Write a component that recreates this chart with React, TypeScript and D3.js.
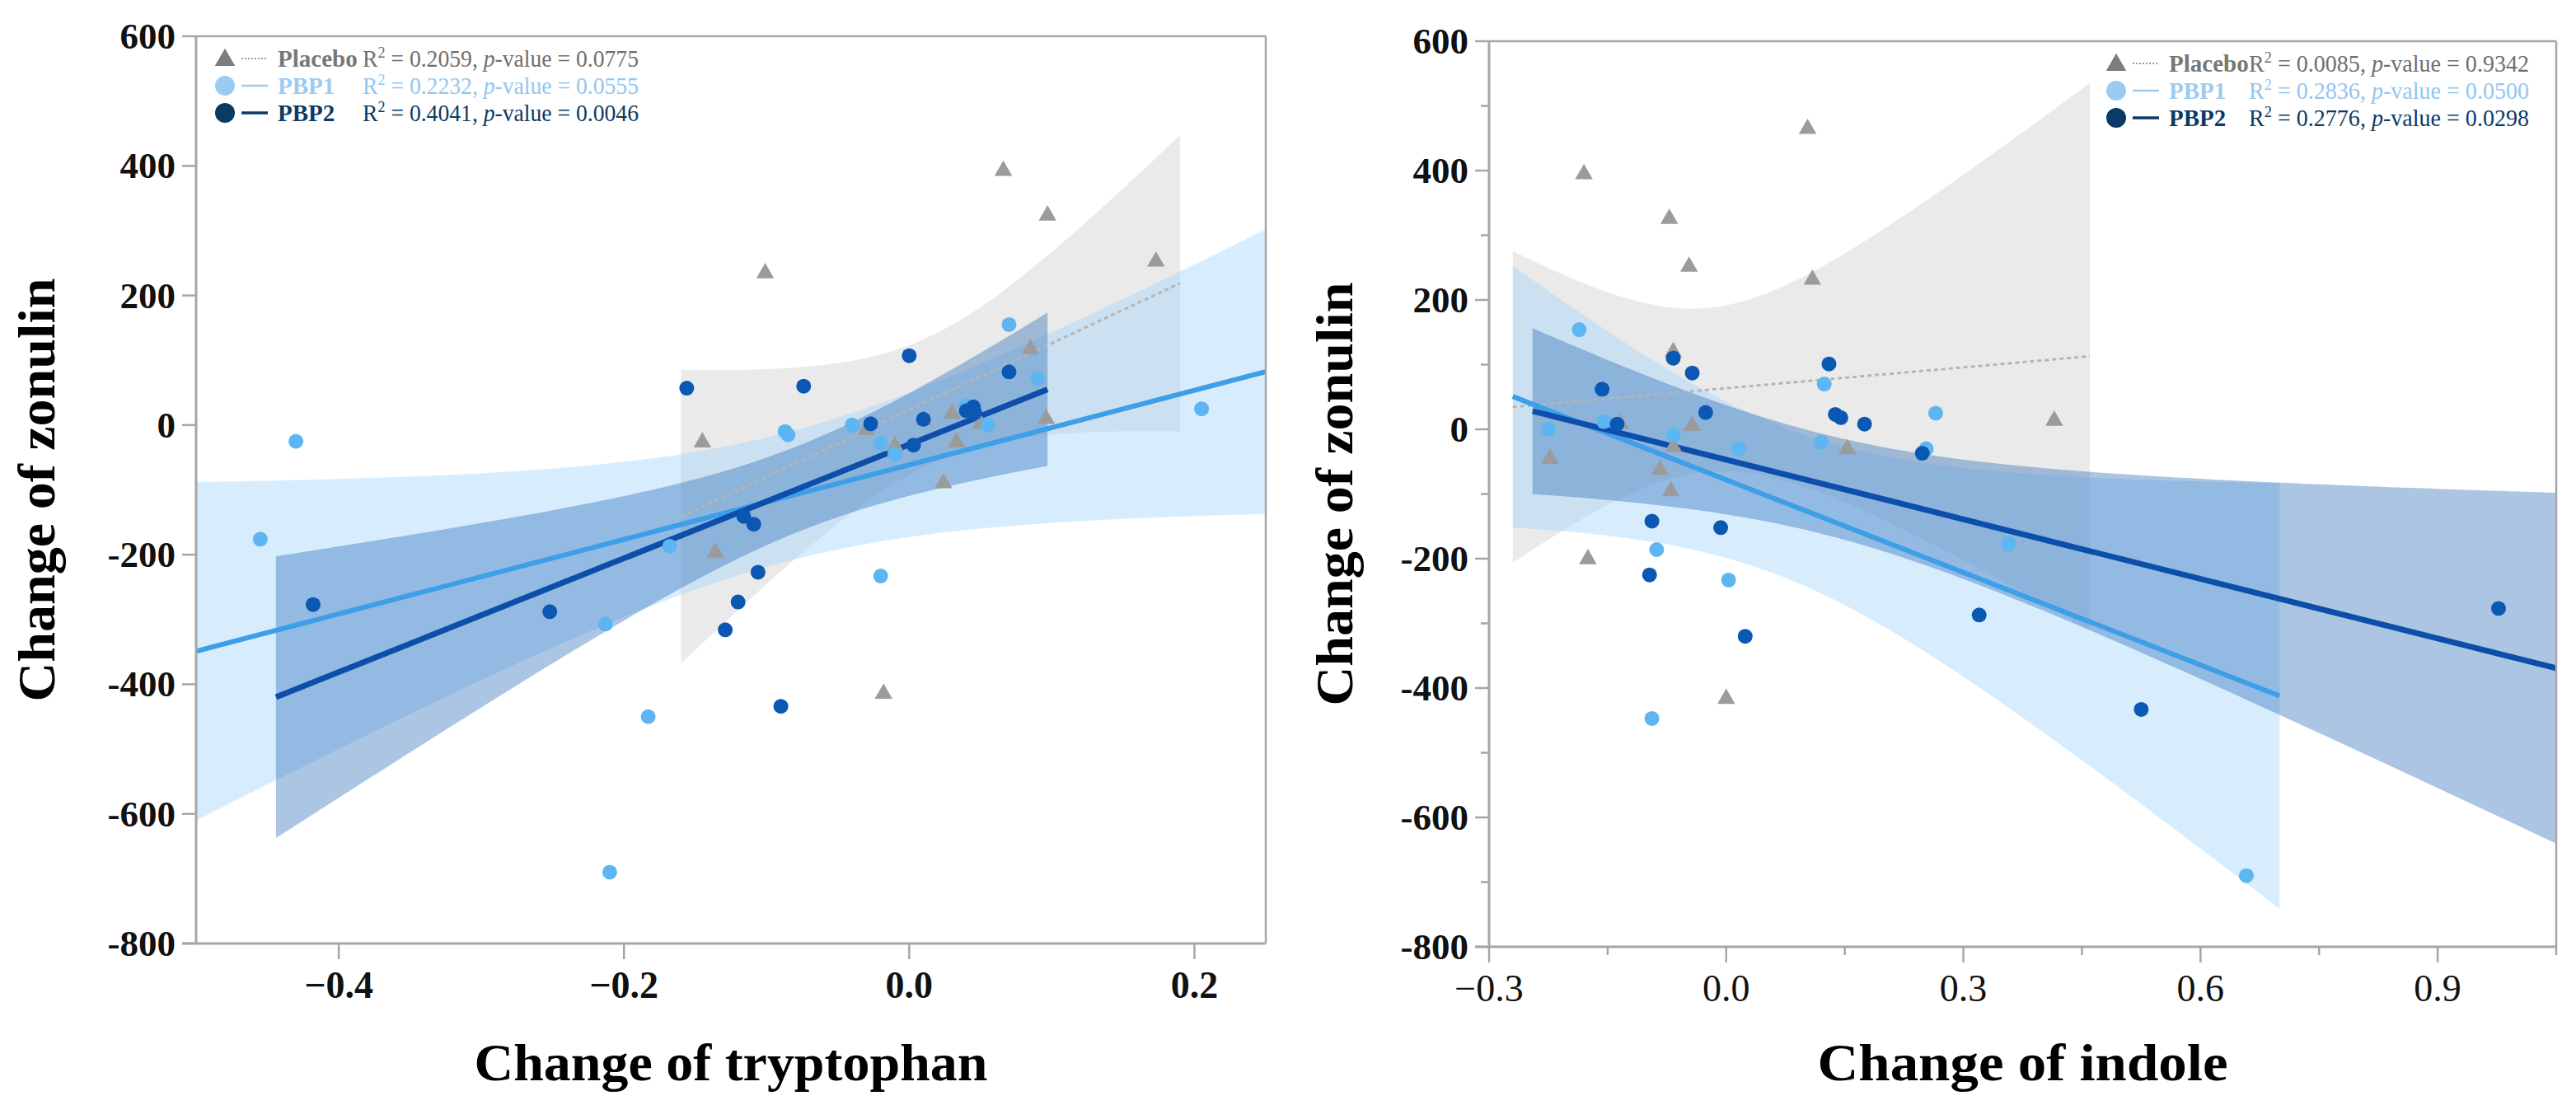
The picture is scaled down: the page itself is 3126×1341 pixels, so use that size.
import React from "react";
import * as d3 from "d3";

// ---------------- Panel A: tryptophan ----------------
const trpPlaceboX = [0.066, 0.097, -0.101, 0.173, 0.085, -0.145, -0.136, -0.018, 0.024, 0.033, 0.096, 0.01, -0.03, 0.05, 0.03, -0.01];
const trpPlaceboY = [395, 326, 237, 255, 120, -24, -194, -412, -87, -24, 12, 10, -5, 5, 20, -30];
const trpPbp1X = [-0.455, -0.43, -0.21, -0.213, -0.183, -0.168, -0.087, -0.085, -0.02, -0.04, -0.02, 0.055, 0.07, 0.09, 0.205, 0.04, -0.01];
const trpPbp1Y = [-176, -25, -690, -307, -450, -187, -10, -15, -233, 0, -28, 0, 155, 72, 25, 30, -45];
const trpPbp2X = [-0.418, -0.252, -0.156, -0.074, 0.0, -0.027, 0.003, 0.01, 0.04, 0.046, 0.07, -0.116, -0.109, -0.106, -0.129, -0.12, -0.09, 0.045];
const trpPbp2Y = [-277, -288, 57, 60, 107, 2, -31, 9, 22, 19, 82, -141, -153, -227, -316, -273, -434, 28];
const trpFitRanges = { placebo: [-0.16, 0.19], pbp1: [-0.5, 0.25], pbp2: [-0.444, 0.097] };
const trpXTicks = [-0.4, -0.2, 0.0, 0.2];
const trpStats = ["0.2059", "0.0775", "0.2232", "0.0555", "0.4041", "0.0046"];

// ---------------- Panel B: indole ----------------
const indPlaceboX = [-0.18, -0.072, 0.103, 0.109, -0.047, -0.067, -0.223, -0.067, -0.134, -0.084, -0.07, -0.175, 0.0, 0.153, 0.415, -0.043];
const indPlaceboY = [397, 328, 467, 234, 254, 122, -43, -25, 11, -60, -93, -198, -414, -28, 16, 8];
const indPbp1X = [-0.186, -0.225, -0.088, -0.094, 0.003, 0.016, 0.124, 0.12, 0.265, 0.253, 0.357, 0.658, -0.155, -0.067];
const indPbp1Y = [154, 0, -186, -447, -233, -30, 70, -20, 25, -30, -177, -690, 12, -9];
const indPbp2X = [-0.157, -0.138, -0.067, -0.043, -0.026, -0.007, -0.094, -0.097, 0.024, 0.13, 0.138, 0.145, 0.175, 0.248, 0.32, 0.525, 0.977];
const indPbp2Y = [62, 8, 110, 87, 26, -152, -142, -225, -320, 101, 23, 18, 8, -37, -287, -433, -277];
const indFitRanges = { placebo: [-0.27, 0.46], pbp1: [-0.27, 0.7], pbp2: [-0.245, 1.05] };
const indXTicks = [-0.3, 0.0, 0.3, 0.6, 0.9];
const indXMinor = [-0.15, 0.15, 0.45, 0.75, 1.05];
const indStats = ["0.0085", "0.9342", "0.2836", "0.0500", "0.2776", "0.0298"];

const yTicks = [600, 400, 200, 0, -200, -400, -600, -800];
const yMinor = [500, 300, 100, -100, -300, -500, -700];

const T975: Record<number, number> = { 8: 2.306, 9: 2.262, 10: 2.228, 11: 2.201, 12: 2.179, 13: 2.16, 14: 2.145, 15: 2.131, 16: 2.12, 17: 2.11, 18: 2.101, 19: 2.093, 20: 2.086 };

function fitBand(xs: number[], ys: number[], range: number[]) {
  const n = xs.length;
  const mx = d3.mean(xs) as number;
  const my = d3.mean(ys) as number;
  let sxx = 0, sxy = 0;
  xs.forEach((x, i) => { sxx += (x - mx) ** 2; sxy += (x - mx) * (ys[i] - my); });
  const b = sxy / sxx;
  const a = my - b * mx;
  let sse = 0;
  xs.forEach((x, i) => { const r = ys[i] - (a + b * x); sse += r * r; });
  const s = Math.sqrt(sse / (n - 2));
  const t = T975[n - 2] ?? 2.1;
  const grid = d3.range(0, 81).map((i) => range[0] + ((range[1] - range[0]) * i) / 80);
  return {
    a, b,
    band: grid.map((x) => {
      const yh = a + b * x;
      const h = t * s * Math.sqrt(1 / n + (x - mx) ** 2 / sxx);
      return { x, lo: yh - h, hi: yh + h };
    }),
  };
}

const FONT = "'Liberation Serif', 'Times New Roman', serif";
const AXIS = "#a6a6a6";
const C_PLAC = "#9b9b9b";
const C_P1 = "#5db5f2";
const C_P2 = "#0b58b4";

type PanelProps = {
  id: string;
  xDomain: number[]; xRange: number[];
  yRange: number[];
  data: { px: number[]; py: number[]; p1x: number[]; p1y: number[]; p2x: number[]; p2y: number[] };
  ranges: { placebo: number[]; pbp1: number[]; pbp2: number[] };
  xTicks: number[]; xMinor: number[]; yMinorOn: boolean;
  xLabelBold: boolean;
  xTitle: string; xTitleLen: number; yTitleX: number;
  legendX: number; legendY: number; statsX: number; statsLen: number;
  stats: string[];
};

function StatText({ x, y, r2, p, color, len, bold }: any) {
  return (
    <text x={x} y={y} fontFamily={FONT} fontSize={29} fill={color} fontWeight={bold ? 700 : 400} textLength={len} lengthAdjust="spacingAndGlyphs" dominantBaseline="central">
      R<tspan fontSize={19} dy={-8}>2</tspan><tspan dy={8}> = {r2}, </tspan><tspan fontStyle="italic">p</tspan>-value = {p}
    </text>
  );
}

function Panel(props: PanelProps) {
  const { id, xDomain, xRange, yRange, data, ranges } = props;
  const x = d3.scaleLinear().domain(xDomain).range(xRange);
  const y = d3.scaleLinear().domain([-800, 600]).range(yRange);
  const [x0, x1] = xRange;
  const [yb, yt] = yRange;

  const fPl = fitBand(data.px, data.py, ranges.placebo);
  const f1 = fitBand(data.p1x, data.p1y, ranges.pbp1);
  const f2 = fitBand(data.p2x, data.p2y, ranges.pbp2);
  const area = d3.area<{ x: number; lo: number; hi: number }>().x((d) => x(d.x)).y0((d) => y(d.lo)).y1((d) => y(d.hi));
  const lineOf = (f: any, r: number[]) => d3.line()([[x(r[0]), y(f.a + f.b * r[0])], [x(r[1]), y(f.a + f.b * r[1])]]) as string;
  const tri = d3.symbol().type(d3.symbolTriangle).size(200)() as string;
  const triLeg = d3.symbol().type(d3.symbolTriangle).size(260)() as string;

  const { legendX: lx, legendY: ly, statsX, statsLen, stats } = props;
  const rows = [ly, ly + 33, ly + 66];

  return (
    <g>
      <defs>
        <clipPath id={`clip-${id}`}>
          <rect x={x0} y={yt} width={x1 - x0} height={yb - yt} />
        </clipPath>
      </defs>
      <g clipPath={`url(#clip-${id})`}>
        <path d={area(fPl.band) as string} fill="#d6d6d6" fillOpacity={0.5} />
        <path d={area(f1.band) as string} fill="#9fd3fb" fillOpacity={0.42} />
        <path d={area(f2.band) as string} fill="#2c6db8" fillOpacity={0.4} />
        <path d={lineOf(fPl, ranges.placebo)} stroke="#b5b5b5" strokeWidth={3} strokeDasharray="5,4" fill="none" />
        <path d={lineOf(f1, ranges.pbp1)} stroke="#3d9fe8" strokeWidth={6} fill="none" />
        <path d={lineOf(f2, ranges.pbp2)} stroke="#0d4eab" strokeWidth={7} fill="none" />
        {data.px.map((v, i) => (
          <path key={`t${i}`} d={tri} transform={`translate(${x(v)},${y(data.py[i]) + 2})`} fill={C_PLAC} />
        ))}
        {data.p1x.map((v, i) => (
          <circle key={`a${i}`} cx={x(v)} cy={y(data.p1y[i])} r={9} fill={C_P1} />
        ))}
        {data.p2x.map((v, i) => (
          <circle key={`b${i}`} cx={x(v)} cy={y(data.p2y[i])} r={9} fill={C_P2} />
        ))}
      </g>
      {/* frame */}
      <line x1={x0} x2={x1} y1={yt} y2={yt} stroke={AXIS} strokeWidth={2.5} />
      <line x1={x1} x2={x1} y1={yt} y2={yb} stroke={AXIS} strokeWidth={2.5} />
      <line x1={x0} x2={x0} y1={yt} y2={yb} stroke={AXIS} strokeWidth={3} />
      <line x1={x0 - 17} x2={x1} y1={yb} y2={yb} stroke={AXIS} strokeWidth={3} />
      {/* y ticks */}
      {yTicks.map((t) => (
        <g key={`yt${t}`}>
          <line x1={x0 - 17} x2={x0} y1={y(t)} y2={y(t)} stroke={AXIS} strokeWidth={2.5} />
          <text x={x0 - 25} y={y(t)} textAnchor="end" dominantBaseline="central" fontFamily={FONT} fontWeight={700} fontSize={45} fill="#111">
            {t}
          </text>
        </g>
      ))}
      {props.yMinorOn && yMinor.map((t) => (
        <line key={`ym${t}`} x1={x0 - 10} x2={x0} y1={y(t)} y2={y(t)} stroke={AXIS} strokeWidth={2.5} />
      ))}
      {/* x ticks */}
      {props.xTicks.map((t) => (
        <g key={`xt${t}`}>
          <line x1={x(t)} x2={x(t)} y1={yb} y2={yb + 19} stroke={AXIS} strokeWidth={2.5} />
          <text x={x(t)} y={yb + 50} textAnchor="middle" dominantBaseline="central" fontFamily={FONT} fontWeight={props.xLabelBold ? 700 : 400} fontSize={46} fill="#111">
            {d3.format(".1f")(t)}
          </text>
        </g>
      ))}
      {props.xMinor.map((t) => (
        <line key={`xm${t}`} x1={x(t)} x2={x(t)} y1={yb} y2={yb + 10} stroke={AXIS} strokeWidth={2.5} />
      ))}
      {/* titles */}
      <text x={(x0 + x1) / 2} y={1311} textAnchor="middle" fontFamily={FONT} fontWeight={700} fontSize={64} fill="#000" textLength={props.xTitleLen} lengthAdjust="spacingAndGlyphs">
        {props.xTitle}
      </text>
      <text transform={`translate(${props.yTitleX},${(yt + yb) / 2}) rotate(-90)`} textAnchor="middle" fontFamily={FONT} fontWeight={700} fontSize={64} fill="#000" textLength={514} lengthAdjust="spacingAndGlyphs">
        Change of zonulin
      </text>
      {/* legend */}
      <path d={triLeg} transform={`translate(${lx},${rows[0] + 2})`} fill="#7d7d7d" />
      <line x1={lx + 20} x2={lx + 52} y1={rows[0]} y2={rows[0]} stroke="#9a9a9a" strokeWidth={2} strokeDasharray="2,2" />
      <text x={lx + 64} y={rows[0]} dominantBaseline="central" fontFamily={FONT} fontWeight={700} fontSize={29} fill="#777">Placebo</text>
      <circle cx={lx} cy={rows[1]} r={12} fill="#9ccbf2" />
      <line x1={lx + 20} x2={lx + 52} y1={rows[1]} y2={rows[1]} stroke="#9ccbf2" strokeWidth={2.5} />
      <text x={lx + 64} y={rows[1]} dominantBaseline="central" fontFamily={FONT} fontWeight={700} fontSize={29} fill="#9ccbf2">PBP1</text>
      <circle cx={lx} cy={rows[2]} r={12} fill="#0b3a66" />
      <line x1={lx + 20} x2={lx + 52} y1={rows[2]} y2={rows[2]} stroke="#0b3a66" strokeWidth={3.5} />
      <text x={lx + 64} y={rows[2]} dominantBaseline="central" fontFamily={FONT} fontWeight={700} fontSize={29} fill="#0b3a66">PBP2</text>
      <StatText x={statsX} y={rows[0]} r2={stats[0]} p={stats[1]} color="#6f6f6f" len={statsLen} />
      <StatText x={statsX} y={rows[1]} r2={stats[2]} p={stats[3]} color="#92c6f0" len={statsLen} />
      <StatText x={statsX} y={rows[2]} r2={stats[4]} p={stats[5]} color="#0b3a66" len={statsLen} />
    </g>
  );
}

export default function App() {
  return (
    <svg width={3126} height={1341} viewBox="0 0 3126 1341" style={{ position: "absolute", left: 0, top: 0, background: "#fff" }}>
      <rect x={0} y={0} width={3126} height={1341} fill="#fff" />
      <Panel
        id="trp"
        xDomain={[-0.5, 0.25]} xRange={[238, 1536]} yRange={[1145, 44]}
        data={{ px: trpPlaceboX, py: trpPlaceboY, p1x: trpPbp1X, p1y: trpPbp1Y, p2x: trpPbp2X, p2y: trpPbp2Y }}
        ranges={trpFitRanges}
        xTicks={trpXTicks} xMinor={[]} yMinorOn={false} xLabelBold={true}
        xTitle="Change of tryptophan" xTitleLen={623} yTitleX={66}
        legendX={273} legendY={71} statsX={440} statsLen={335} stats={trpStats}
      />
      <Panel
        id="ind"
        xDomain={[-0.3, 1.05]} xRange={[1807, 3102]} yRange={[1149, 50]}
        data={{ px: indPlaceboX, py: indPlaceboY, p1x: indPbp1X, p1y: indPbp1Y, p2x: indPbp2X, p2y: indPbp2Y }}
        ranges={indFitRanges}
        xTicks={indXTicks} xMinor={indXMinor} yMinorOn={true} xLabelBold={false}
        xTitle="Change of indole" xTitleLen={498} yTitleX={1641}
        legendX={2568} legendY={77} statsX={2729} statsLen={340} stats={indStats}
      />
    </svg>
  );
}
